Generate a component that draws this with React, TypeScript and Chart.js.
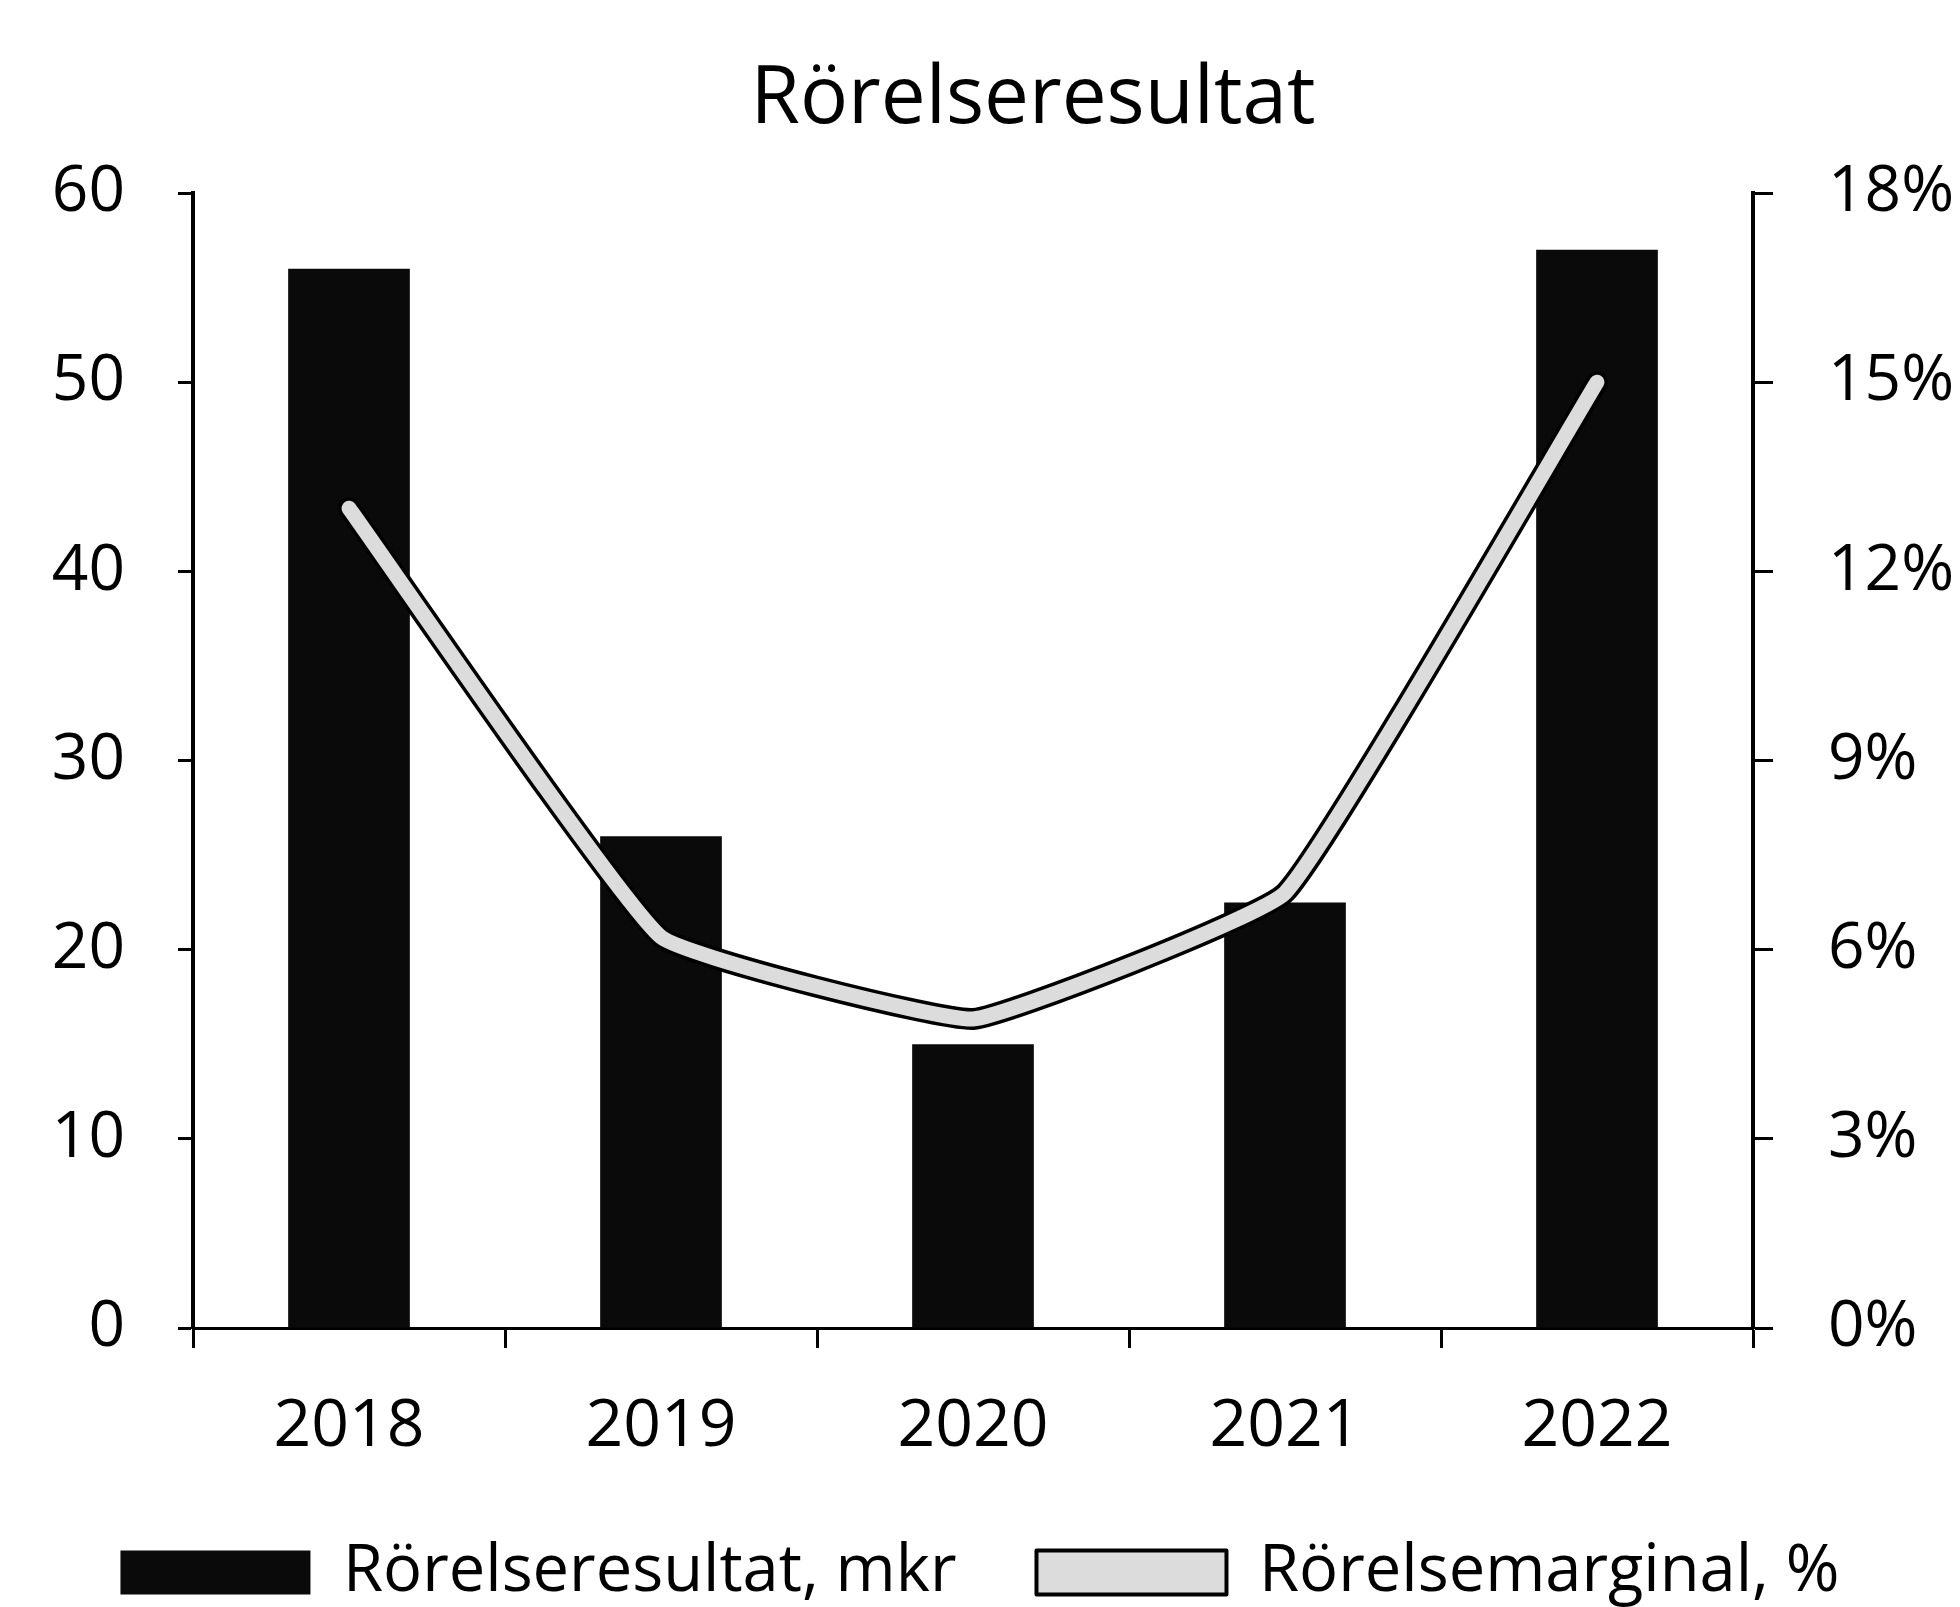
import React, { useEffect, useRef } from "react";
import { Chart, registerables } from "chart.js";

Chart.register(...registerables);

const categories = ["2018", "2019", "2020", "2021", "2022"];
const operatingResult = [56, 26, 15, 22.5, 57];
const operatingMargin = [13, 6.2, 4.9, 6.9, 15];
const leftTicks = [0, 10, 20, 30, 40, 50, 60];
const rightTicks = [0, 3, 6, 9, 12, 15, 18];

const titleText = "Rörelseresultat";
const barLabel = "Rörelseresultat, mkr";
const lineLabel = "Rörelsemarginal, %";

const FONT = "'Open Sans', 'DejaVu Sans', sans-serif";

const titlePlugin = {
  id: "customTitle",
  afterDraw(chart: any) {
    const ctx = chart.ctx;
    ctx.save();
    ctx.fillStyle = "#000";
    ctx.font = `normal 80px ${FONT}`;
    ctx.textAlign = "center";
    ctx.textBaseline = "alphabetic";
    ctx.fillText(titleText, 1033, 123);
    ctx.restore();
  },
};

export default function App() {
  const ref = useRef<HTMLCanvasElement | null>(null);

  useEffect(() => {
    document.body.style.margin = "0";
    document.body.style.overflow = "hidden";
    const canvas = ref.current;
    if (!canvas) return;
    const chart = new Chart(canvas, {
      type: "bar",
      data: {
        labels: categories,
        datasets: [
          {
            type: "bar",
            label: barLabel,
            data: operatingResult,
            backgroundColor: "#0a0a0a",
            borderWidth: 0,
            yAxisID: "y",
            order: 3,
            barPercentage: 0.39,
            categoryPercentage: 1,
          },
          {
            type: "line",
            label: lineLabel,
            data: operatingMargin,
            borderColor: "#000",
            backgroundColor: "#dcdcdc",
            borderWidth: 22,
            pointRadius: 0,
            tension: 0.1,
            borderCapStyle: "round",
            borderJoinStyle: "round",
            yAxisID: "y1",
            order: 2,
          },
          {
            type: "line",
            label: "_inner",
            data: operatingMargin,
            borderColor: "#dcdcdc",
            borderWidth: 15,
            pointRadius: 0,
            tension: 0.1,
            borderCapStyle: "round",
            borderJoinStyle: "round",
            yAxisID: "y1",
            order: 1,
          },
        ],
      } as any,
      options: {
        responsive: false,
        animation: false,
        layout: { padding: { left: 0, right: 0, top: 193, bottom: -8 } },
        plugins: {
          tooltip: { enabled: false },
          title: { display: false },
          legend: {
            position: "bottom",
            labels: {
              color: "#000",
              font: { family: FONT, size: 65 },
              boxWidth: 190,
              boxHeight: 44,
              padding: 80,
              filter: (item: any) => item.text !== "_inner",
              sort: (a: any, b: any) => a.datasetIndex - b.datasetIndex,
              generateLabels: (ch: any) => {
                const items = Chart.defaults.plugins.legend.labels.generateLabels(ch);
                return items.map((it: any) => {
                  if (it.datasetIndex === 1) {
                    return { ...it, fillStyle: "#dcdcdc", strokeStyle: "#000", lineWidth: 4, lineCap: "butt", lineDash: [] };
                  }
                  if (it.datasetIndex === 0) {
                    return { ...it, fillStyle: "#0a0a0a", strokeStyle: "#0a0a0a", lineWidth: 0 };
                  }
                  return it;
                });
              },
            },
          },
        },
        scales: {
          x: {
            offset: true,
            grid: {
              offset: true,
              drawOnChartArea: false,
              drawTicks: true,
              tickLength: 20,
              tickWidth: 3,
              tickColor: "#000",
            },
            border: { display: true, color: "#000", width: 3 },
            ticks: {
              color: "#000",
              font: { family: FONT, size: 66 },
              padding: 40,
              maxRotation: 0,
            },
            afterFit: (s: any) => {
              s.height = 132;
            },
          },
          y: {
            position: "left",
            min: 0,
            max: 60,
            afterBuildTicks: (s: any) => {
              s.ticks = leftTicks.map((v) => ({ value: v }));
            },
            grid: {
              drawOnChartArea: false,
              drawTicks: true,
              tickLength: 15,
              tickWidth: 3,
              tickColor: "#000",
            },
            border: { display: true, color: "#000", width: 4 },
            ticks: {
              color: "#000",
              font: { family: FONT, size: 64 },
              padding: 53,
            },
            afterFit: (s: any) => {
              s.width = 193;
            },
          },
          y1: {
            position: "right",
            min: 0,
            max: 18,
            afterBuildTicks: (s: any) => {
              s.ticks = rightTicks.map((v) => ({ value: v }));
            },
            grid: {
              drawOnChartArea: false,
              drawTicks: true,
              tickLength: 20,
              tickWidth: 3,
              tickColor: "#000",
            },
            border: { display: true, color: "#000", width: 4 },
            ticks: {
              color: "#000",
              font: { family: FONT, size: 64 },
              padding: 55,
              callback: (v: any) => `${v}%`,
            },
            afterFit: (s: any) => {
              s.width = 207;
            },
          },
        },
      } as any,
      plugins: [titlePlugin],
    });
    return () => chart.destroy();
  }, []);

  return (
    <div style={{ width: 1960, height: 1607 }}>
      <canvas ref={ref} width={1960} height={1607} style={{ display: "block" }} />
    </div>
  );
}
